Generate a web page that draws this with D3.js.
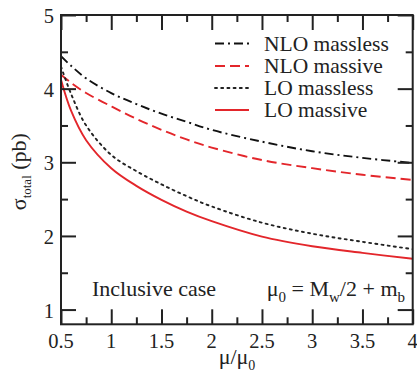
<!DOCTYPE html>
<html>
<head>
<meta charset="utf-8">
<script src="https://cdn.jsdelivr.net/npm/d3@7"></script>
<style>
  html, body { margin: 0; padding: 0; background: #fff; }
  svg { display: block; }
</style>
</head>
<body>
<svg id="chart" width="417" height="378"></svg>
<script>
// Scale factor mu/mu0 at which the cross sections are sampled
const muRatio = [0.5, 0.6, 0.75, 1, 1.25, 1.5, 1.75, 2, 2.5, 3, 3.5, 4];

// Total cross sections (pb)
const nloMassless = [4.44, 4.31, 4.14, 3.94, 3.79, 3.66, 3.55, 3.44, 3.28, 3.15, 3.06, 2.99];
const nloMassive  = [4.19, 4.08, 3.94, 3.76, 3.59, 3.44, 3.31, 3.20, 3.03, 2.92, 2.83, 2.76];
const loMassless  = [4.30, 3.93, 3.50, 3.10, 2.88, 2.70, 2.54, 2.40, 2.18, 2.03, 1.92, 1.82];
const loMassive   = [4.12, 3.70, 3.30, 2.92, 2.68, 2.49, 2.33, 2.20, 1.99, 1.86, 1.77, 1.69];

const seriesNames = ["NLO massless", "NLO massive", "LO massless", "LO massive"];

// Axis ticks
const xMajorTicks = [0.5, 1, 1.5, 2, 2.5, 3, 3.5, 4];
const xMinorTicks = [0.75, 1.25, 1.75, 2.25, 2.75, 3.25, 3.75];
const xTickLabels = ["0.5", "1", "1.5", "2", "2.5", "3", "3.5", "4"];
const yMajorTicks = [1, 2, 3, 4, 5];
const yMinorTicks = [1.5, 2.5, 3.5, 4.5];
const yTickLabels = ["1", "2", "3", "4", "5"];

const FONT = "Liberation Serif";
const INK = "#222";

const svg = d3.select("#chart");
const plot = { left: 61, right: 412.7, top: 15, bottom: 324.3 };

const x = d3.scaleLinear().domain([0.5, 4]).range([plot.left, plot.right]);
const y = d3.scaleLinear().domain([0.8, 5]).range([plot.bottom, plot.top]);

const RED = "#e3262b";
const styles = [
  { color: "#111", dash: "9,4,2,4" },
  { color: RED, dash: "10,5" },
  { color: "#222", dash: "2,4.2" },
  { color: RED, dash: null }
];
const seriesValues = [nloMassless, nloMassive, loMassless, loMassive];

// Curves
const line = d3.line()
  .x(d => x(d[0]))
  .y(d => y(d[1]))
  .curve(d3.curveCatmullRom.alpha(0.5));

svg.append("clipPath").attr("id", "clip")
  .append("rect")
  .attr("x", plot.left).attr("y", plot.top)
  .attr("width", plot.right - plot.left).attr("height", plot.bottom - plot.top);
const curves = svg.append("g").attr("clip-path", "url(#clip)");

seriesValues.forEach((vals, i) => {
  const pts = muRatio.map((m, k) => [m, vals[k]]);
  curves.append("path")
    .datum(pts)
    .attr("d", line)
    .attr("fill", "none")
    .attr("stroke", styles[i].color)
    .attr("stroke-width", 1.9)
    .attr("stroke-dasharray", styles[i].dash)
    .attr("stroke-linecap", i === 2 ? "round" : "butt");
});

// Frame and inward ticks on all four sides
const axisStyle = g => {
  g.select(".domain").remove();
  g.selectAll("line").attr("stroke", INK).attr("stroke-width", 2);
  g.selectAll("text").remove();
};

svg.append("g").attr("transform", `translate(0,${plot.bottom})`)
  .call(d3.axisBottom(x).tickValues(xMajorTicks).tickSize(-15)).call(axisStyle);
svg.append("g").attr("transform", `translate(0,${plot.bottom})`)
  .call(d3.axisBottom(x).tickValues(xMinorTicks).tickSize(-7)).call(axisStyle);
svg.append("g").attr("transform", `translate(0,${plot.top})`)
  .call(d3.axisTop(x).tickValues(xMajorTicks).tickSize(-15)).call(axisStyle);
svg.append("g").attr("transform", `translate(0,${plot.top})`)
  .call(d3.axisTop(x).tickValues(xMinorTicks).tickSize(-7)).call(axisStyle);
svg.append("g").attr("transform", `translate(${plot.left},0)`)
  .call(d3.axisLeft(y).tickValues(yMajorTicks).tickSize(-15)).call(axisStyle);
svg.append("g").attr("transform", `translate(${plot.left},0)`)
  .call(d3.axisLeft(y).tickValues(yMinorTicks).tickSize(-7)).call(axisStyle);
svg.append("g").attr("transform", `translate(${plot.right},0)`)
  .call(d3.axisRight(y).tickValues(yMajorTicks).tickSize(-15)).call(axisStyle);
svg.append("g").attr("transform", `translate(${plot.right},0)`)
  .call(d3.axisRight(y).tickValues(yMinorTicks).tickSize(-7)).call(axisStyle);

svg.append("rect")
  .attr("x", plot.left).attr("y", plot.top)
  .attr("width", plot.right - plot.left).attr("height", plot.bottom - plot.top)
  .attr("fill", "none").attr("stroke", INK).attr("stroke-width", 2);

// Everything textual shares the serif face
const txt = svg.append("g")
  .attr("font-family", FONT)
  .attr("fill", INK);

// Tick labels
txt.append("g").selectAll("text")
  .data(xMajorTicks)
  .join("text")
  .attr("x", d => x(d))
  .attr("y", plot.bottom + 24)
  .attr("text-anchor", "middle")
  .attr("font-size", 20.5)
  .text((d, i) => xTickLabels[i]);

txt.append("g").selectAll("text")
  .data(yMajorTicks)
  .join("text")
  .attr("x", plot.left - 7)
  .attr("y", d => y(d) + 8)
  .attr("text-anchor", "end")
  .attr("font-size", 20.5)
  .text((d, i) => yTickLabels[i]);

// Axis titles
const yTitle = txt.append("text")
  .attr("transform", `translate(26,${(plot.top + plot.bottom) / 2 + 2}) rotate(-90)`)
  .attr("text-anchor", "middle")
  .attr("font-size", 22);
yTitle.append("tspan").text("σ");
yTitle.append("tspan").attr("font-size", 13).attr("dy", 5).text("total");
yTitle.append("tspan").attr("dy", -5).text(" (pb)");

const xTitle = txt.append("text")
  .attr("x", 237).attr("y", 364)
  .attr("text-anchor", "middle")
  .attr("font-size", 22);
xTitle.append("tspan").text("μ/μ");
xTitle.append("tspan").attr("font-size", 14).attr("dy", 6).text("0");

// Annotations
txt.append("text")
  .attr("x", 92).attr("y", 296)
  .attr("font-size", 22)
  .text("Inclusive case");

const scaleNote = txt.append("text")
  .attr("x", 405).attr("y", 296)
  .attr("text-anchor", "end")
  .attr("font-size", 22);
scaleNote.append("tspan").text("μ");
scaleNote.append("tspan").attr("font-size", 15).attr("dy", 6).text("0");
scaleNote.append("tspan").attr("dy", -6).text(" = M");
scaleNote.append("tspan").attr("font-size", 15).attr("dy", 6).text("w");
scaleNote.append("tspan").attr("dy", -6).text("/2 + m");
scaleNote.append("tspan").attr("font-size", 15).attr("dy", 6).text("b");

// Legend
const legendRowY = [43.5, 66, 88, 110];
const legend = svg.append("g");
seriesNames.forEach((name, i) => {
  legend.append("line")
    .attr("x1", 215).attr("x2", 249)
    .attr("y1", legendRowY[i]).attr("y2", legendRowY[i])
    .attr("stroke", styles[i].color)
    .attr("stroke-width", 1.9)
    .attr("stroke-dasharray", styles[i].dash)
    .attr("stroke-linecap", i === 2 ? "round" : "butt");
  txt.append("text")
    .attr("x", 264).attr("y", legendRowY[i] + 7)
    .attr("font-size", 21.5)
    .text(name);
});
</script>
</body>
</html>
